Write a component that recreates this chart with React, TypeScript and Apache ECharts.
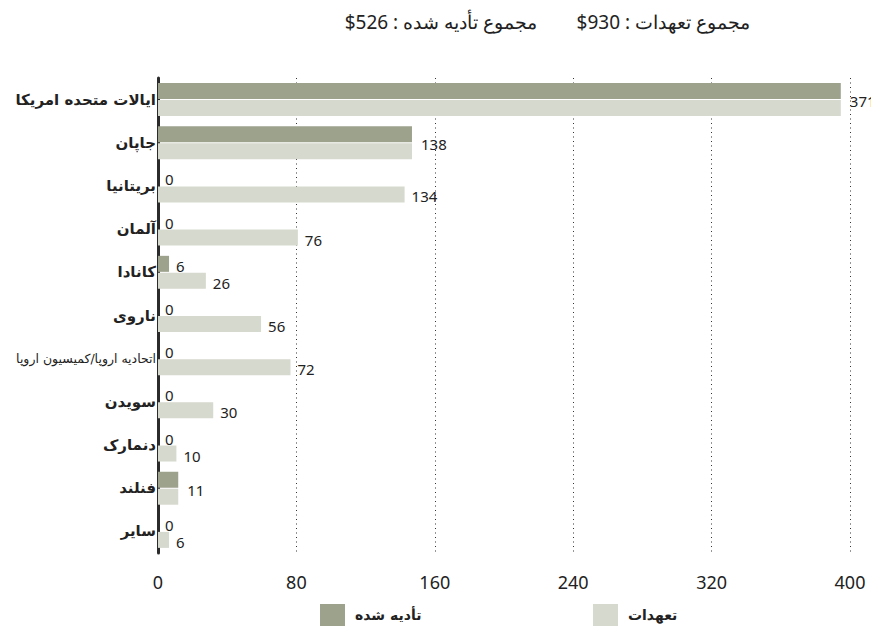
import React, { useEffect, useRef } from "react";
import * as echarts from "echarts";

const CATEGORIES = [
  "ایالات متحده امریکا",
  "جاپان",
  "بریتانیا",
  "آلمان",
  "کانادا",
  "ناروی",
  "اتحادیه اروپا/کمیسیون اروپا",
  "سویدن",
  "دنمارک",
  "فنلند",
  "سایر",
];
const PAID = [371, 138, 0, 0, 6, 0, 0, 0, 0, 11, 0];
const COMMITTED = [371, 138, 134, 76, 26, 56, 72, 30, 10, 11, 6];
const TICK_LABELS = ["0", "80", "160", "240", "320", "400"];
const SERIES_NAMES = ["تأدیه شده", "تعهدات"];
const TITLE_PAID = "مجموع تأدیه شده";
const TITLE_COMMIT = "مجموع تعهدات";
// value at which the last tick sits (bars in the source are drawn on this span)
const AXIS_MAX = 376;

const PAID_COLOR = "#9da28d";
const COMMIT_COLOR = "#d6d9ce";
const NUM_FONT = "'Noto Sans', 'Open Sans', sans-serif";
const AR_FONT = "'DejaVu Sans', sans-serif";

export default function App() {
  const ref = useRef<HTMLDivElement>(null);
  useEffect(() => {
    if (!ref.current) return;
    const chart = echarts.init(ref.current, null, { renderer: "svg" });
    const totalPaid = PAID.reduce((a, b) => a + b, 0);
    const totalCommit = COMMITTED.reduce((a, b) => a + b, 0);
    const interval = AXIS_MAX / (TICK_LABELS.length - 1);
    const labelBase = {
      show: true,
      position: "right" as const,
      distance: 7,
      color: "#222",
      fontSize: 15,
      fontFamily: NUM_FONT,
    };
    const legendBase = {
      top: 604,
      padding: 0,
      itemWidth: 25,
      itemHeight: 22,
      icon: "rect",
      textStyle: { fontSize: 14, fontWeight: "bold", fontFamily: AR_FONT, color: "#222", padding: [0, 0, 0, 5] },
    };
    chart.setOption({
      animation: false,
      backgroundColor: "#fff",
      grid: { left: 158, right: 21, top: 78, bottom: 73, containLabel: false },
      graphic: [
        {
          type: "text",
          right: 121,
          top: 12,
          style: {
            text: "$" + totalCommit + " : " + TITLE_COMMIT,
            fontSize: 19,
            fontFamily: NUM_FONT,
            fill: "#222",
          },
        },
        {
          type: "text",
          right: 334,
          top: 12,
          style: {
            text: "$" + totalPaid + " : " + TITLE_PAID,
            fontSize: 19,
            fontFamily: NUM_FONT,
            fill: "#222",
          },
        },
      ],
      legend: [
        { ...legendBase, data: [SERIES_NAMES[0]], left: 320 },
        { ...legendBase, data: [SERIES_NAMES[1]], left: 593 },
      ],
      xAxis: {
        type: "value",
        min: 0,
        max: AXIS_MAX,
        interval,
        axisLine: { show: false },
        axisTick: { show: false },
        axisLabel: {
          margin: 20,
          fontSize: 18,
          color: "#222",
          fontFamily: NUM_FONT,
          formatter: (v: number) => TICK_LABELS[Math.round(v / interval)] ?? "",
        },
        splitLine: { show: true, lineStyle: { color: "#333", type: [1, 3.5], width: 1 } },
      },
      yAxis: {
        type: "category",
        inverse: true,
        data: CATEGORIES.map((c, i) =>
          i === 6
            ? { value: c, textStyle: { fontSize: 12.5, fontWeight: "normal" } }
            : c
        ),
        axisLine: { show: true, lineStyle: { color: "#2b2b2b", width: 3 } },
        axisTick: { show: false },
        axisLabel: {
          margin: 2,
          fontSize: 15,
          fontWeight: "bold",
          color: "#222",
          fontFamily: AR_FONT,
        },
        splitLine: { show: false },
      },
      series: [
        {
          name: SERIES_NAMES[0],
          type: "bar",
          barWidth: 16,
          barGap: "6%",
          itemStyle: { color: PAID_COLOR },
          data: PAID.map((v, i) => ({
            value: v,
            label: { ...labelBase, show: v !== COMMITTED[i], offset: [0, 2] },
          })),
        },
        {
          name: SERIES_NAMES[1],
          type: "bar",
          barWidth: 16,
          barGap: "6%",
          itemStyle: { color: COMMIT_COLOR },
          data: COMMITTED.map((v, i) => ({
            value: v,
            label: { ...labelBase, offset: v === PAID[i] ? [2, -7] : [0, 2] },
          })),
        },
      ],
    });
    return () => chart.dispose();
  }, []);
  return (
    <div
      ref={ref}
      style={{ position: "fixed", left: 0, top: 0, width: 871, height: 626, background: "#fff" }}
    />
  );
}
